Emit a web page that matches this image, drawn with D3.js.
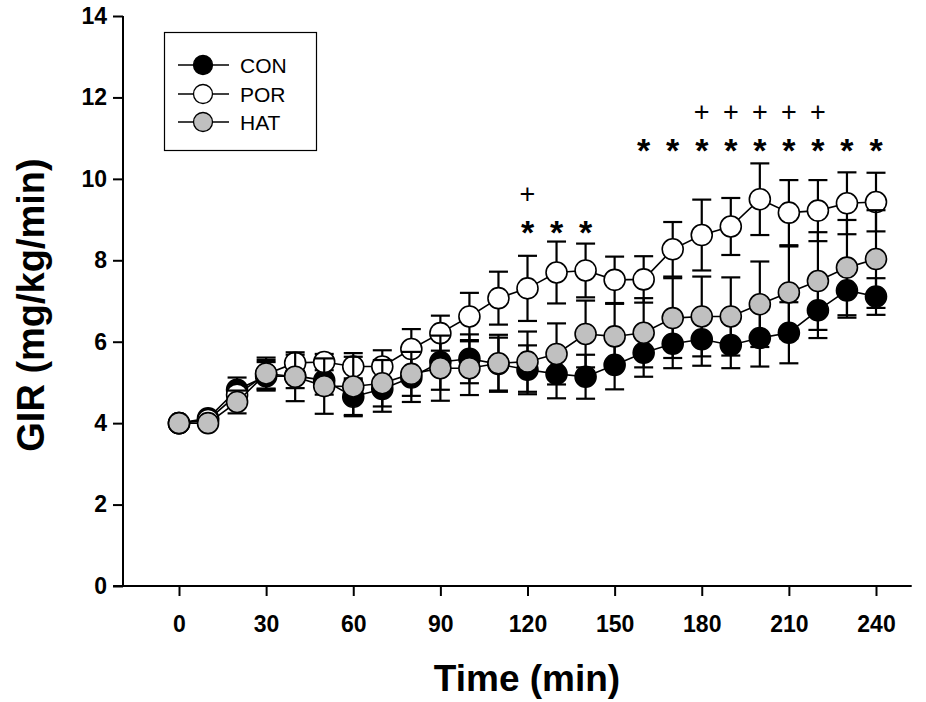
<!DOCTYPE html>
<html><head><meta charset="utf-8">
<script src="https://cdn.jsdelivr.net/npm/d3@7"></script>
<style>
body{margin:0;background:#fff}
svg{display:block;font-family:"Liberation Sans",Arial,Helvetica,sans-serif}
</style>
</head><body>
<svg id="chart" width="926" height="702"></svg>
<script>
// ---------- data ----------
const times = [0,10,20,30,40,50,60,70,80,90,100,110,120,130,140,150,160,170,180,190,200,210,220,230,240];
const seriesNames = ["CON","POR","HAT"];
const conMean = [4.0,4.12,4.82,5.15,5.16,5.05,4.65,4.84,5.12,5.5,5.58,5.45,5.31,5.21,5.14,5.43,5.73,5.95,6.06,5.92,6.09,6.22,6.77,7.26,7.11];
const conSE   = [0,0.05,0.3,0.35,0.3,0.35,0.45,0.56,0.6,0.68,0.6,0.65,0.6,0.6,0.54,0.6,0.59,0.6,0.65,0.57,0.7,0.75,0.68,0.67,0.45];
const porMean = [4.0,4.08,4.7,5.2,5.48,5.5,5.39,5.39,5.82,6.21,6.62,7.07,7.31,7.70,7.75,7.52,7.53,8.27,8.62,8.83,9.5,9.17,9.22,9.4,9.43];
const porSE   = [0,0.05,0.2,0.35,0.2,0.2,0.33,0.4,0.49,0.43,0.58,0.65,0.8,0.76,0.66,0.57,0.57,0.67,0.87,0.7,0.88,0.8,0.75,0.76,0.72];
const hatMean = [4.0,4.0,4.52,5.22,5.14,4.91,4.90,4.98,5.21,5.35,5.35,5.47,5.51,5.70,6.19,6.13,6.22,6.58,6.62,6.62,6.92,7.21,7.49,7.82,8.03];
const hatSE   = [0,0.03,0.28,0.39,0.6,0.68,0.73,0.57,0.54,0.8,0.66,0.7,0.74,0.75,0.82,0.8,0.85,0.98,0.98,0.96,1.05,1.13,1.2,1.17,1.2];
const seriesFills = ["#000000","#ffffff","#c0c0c0"];

const xTickValues = [0,30,60,90,120,150,180,210,240];
const yTickValues = [0,2,4,6,8,10,12,14];

// significance marks (time, level in GIR units)
const starTimes1 = [120,130,140];
const plusTimes1 = [120];
const starTimes2 = [160,170,180,190,200,210,220,230,240];
const plusTimes2 = [180,190,200,210,220];
const starLevel1 = 8.84, plusLevel1 = 9.63, starLevel2 = 10.86, plusLevel2 = 11.64;

const xTitle = "Time (min)";
const yTitle = "GIR (mg/kg/min)";

// ---------- chart ----------
const svg = d3.select("#chart");
svg.append("rect").attr("width",926).attr("height",702).attr("fill","#fff");

const x = d3.scaleLinear().domain([0,240]).range([179,876]);
const y = d3.scaleLinear().domain([0,14]).range([586,16]);

const axisY = 586, axisX = 123;

// x axis
const gx = svg.append("g").attr("transform",`translate(0,${axisY})`)
  .call(d3.axisBottom(x).tickValues(xTickValues).tickSize(10).tickPadding(20).tickSizeOuter(0));
gx.select(".domain").remove();
gx.selectAll(".tick line").attr("stroke","#000").attr("stroke-width",2);
gx.selectAll(".tick text").attr("font-size",23).attr("font-weight","bold").attr("fill","#000")
  .attr("font-family","'Liberation Sans',Arial,sans-serif");
svg.append("line").attr("x1",x(-22.7)).attr("x2",x(252.3))
  .attr("y1",axisY).attr("y2",axisY).attr("stroke","#000").attr("stroke-width",2);

// y axis
const gy = svg.append("g").attr("transform",`translate(${axisX},0)`)
  .call(d3.axisLeft(y).tickValues(yTickValues).tickSize(10).tickPadding(6).tickSizeOuter(0));
gy.select(".domain").remove();
gy.selectAll(".tick line").attr("stroke","#000").attr("stroke-width",2);
gy.selectAll(".tick text").attr("font-size",23).attr("font-weight","bold").attr("fill","#000")
  .attr("font-family","'Liberation Sans',Arial,sans-serif");
svg.append("line").attr("x1",axisX).attr("x2",axisX).attr("y1",y(14)).attr("y2",axisY+1)
  .attr("stroke","#000").attr("stroke-width",2);

// titles
svg.append("text").attr("x",527).attr("y",691).attr("text-anchor","middle")
  .attr("font-size",37).attr("font-weight","bold").text(xTitle);
svg.append("text").attr("transform","translate(44,305) rotate(-90)").attr("text-anchor","middle")
  .attr("font-size",38).attr("font-weight","bold").text(yTitle);

// series
const series = [
  {name:seriesNames[0], mean:conMean, se:conSE, fill:seriesFills[0]},
  {name:seriesNames[1], mean:porMean, se:porSE, fill:seriesFills[1]},
  {name:seriesNames[2], mean:hatMean, se:hatSE, fill:seriesFills[2]}
];
const line = d3.line().x(d=>x(d.t)).y(d=>y(d.v));
const capW = 9.5, r = 10.5;

series.forEach(s => {
  const pts = times.map((t,i)=>({t, v:s.mean[i], e:s.se[i]}));
  const g = svg.append("g");
  g.append("path").datum(pts).attr("d",line).attr("fill","none").attr("stroke","#000").attr("stroke-width",1.6);
  const eb = g.selectAll(".eb").data(pts.filter(p=>p.e>0)).join("g");
  eb.append("line").attr("x1",d=>x(d.t)).attr("x2",d=>x(d.t))
    .attr("y1",d=>y(d.v+d.e)).attr("y2",d=>y(d.v-d.e)).attr("stroke","#000").attr("stroke-width",2.2);
  eb.append("line").attr("x1",d=>x(d.t)-capW).attr("x2",d=>x(d.t)+capW)
    .attr("y1",d=>y(d.v+d.e)).attr("y2",d=>y(d.v+d.e)).attr("stroke","#000").attr("stroke-width",2.2);
  eb.append("line").attr("x1",d=>x(d.t)-capW).attr("x2",d=>x(d.t)+capW)
    .attr("y1",d=>y(d.v-d.e)).attr("y2",d=>y(d.v-d.e)).attr("stroke","#000").attr("stroke-width",2.2);
  g.selectAll("circle").data(pts).join("circle")
    .attr("cx",d=>x(d.t)).attr("cy",d=>y(d.v)).attr("r",r)
    .attr("fill",s.fill).attr("stroke","#000").attr("stroke-width",1.6);
});

// significance marks
function stars(ts, level){
  svg.append("g").selectAll("text").data(ts).join("text")
    .attr("x",d=>x(d)).attr("y",y(level)).attr("dy",18).attr("text-anchor","middle")
    .attr("font-size",34).attr("font-weight","bold").text("*");
}
function pluses(ts, level){
  svg.append("g").selectAll("text").data(ts).join("text")
    .attr("x",d=>x(d)).attr("y",y(level)).attr("dy",9).attr("text-anchor","middle")
    .attr("font-size",27).text("+");
}
stars(starTimes1, starLevel1); pluses(plusTimes1, plusLevel1);
stars(starTimes2, starLevel2); pluses(plusTimes2, plusLevel2);

// legend
const lg = svg.append("g");
lg.append("rect").attr("x",164.5).attr("y",32.5).attr("width",152).attr("height",118)
  .attr("fill","#fff").attr("stroke","#000").attr("stroke-width",1.2);
const rowsY = [65,94,122];
series.forEach((s,i)=>{
  lg.append("line").attr("x1",178).attr("x2",229).attr("y1",rowsY[i]).attr("y2",rowsY[i])
    .attr("stroke","#000").attr("stroke-width",1.3);
  lg.append("circle").attr("cx",203).attr("cy",rowsY[i]).attr("r",9.5)
    .attr("fill",s.fill).attr("stroke","#000").attr("stroke-width",1.3);
  lg.append("text").attr("x",240).attr("y",rowsY[i]+7.5).attr("font-size",21).text(s.name);
});
</script>
</body></html>
